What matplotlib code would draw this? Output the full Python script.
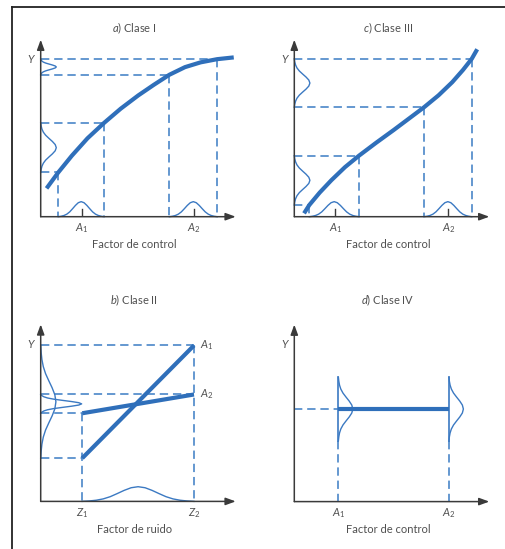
import numpy as np
import matplotlib
matplotlib.use('Agg')
import matplotlib.pyplot as plt
from matplotlib.lines import Line2D

plt.rcParams['font.family'] = ['Lato', 'DejaVu Sans']
plt.rcParams['mathtext.fontset'] = 'custom'
plt.rcParams['mathtext.rm'] = 'Lato'
plt.rcParams['mathtext.it'] = 'Lato:italic'
plt.rcParams['lines.scale_dashes'] = False

# a) Clase I : respuesta concava
a_curve_x = [0.3, 0.9, 1.6, 2.4, 3.25, 4.1, 5.0, 5.8, 6.6, 7.4, 8.2, 9.05, 9.9]
a_curve_y = [1.6, 2.5, 3.45, 4.43, 5.3, 6.1, 6.85, 7.45, 8.02, 8.45, 8.72, 8.9, 9.0]
a_ctrl = [2.1, 7.85]            # A1, A2
a_x_lo = [0.9, 6.6]
a_x_hi = [3.25, 9.05]
a_y_lo = [2.5, 8.02]
a_y_hi = [5.3, 8.9]

# c) Clase III : respuesta en S
c_curve_x = [0.5, 0.77, 1.3, 1.9, 2.6, 3.32, 4.2, 5.1, 5.9, 6.65, 7.4, 8.1, 8.65, 9.1, 9.38]
c_curve_y = [0.19, 0.66, 1.36, 2.06, 2.8, 3.45, 4.18, 4.9, 5.56, 6.18, 6.86, 7.6, 8.29, 8.92, 9.46]
c_ctrl = [2.1, 7.9]
c_x_lo = [0.77, 6.65]
c_x_hi = [3.32, 9.1]
c_y_lo = [0.66, 6.18]
c_y_hi = [3.45, 8.92]

# b) Clase II : interaccion control x ruido
b_noise = [2.13, 7.86]          # Z1, Z2
b_a1 = [2.44, 8.81]
b_a2 = [4.98, 6.04]

# d) Clase IV : sin efecto
d_ctrl = [2.26, 7.93]
d_y = [5.23, 5.23]

# forma de campana
bell_profile = [0.0, 0.03, 0.08, 0.17, 0.32, 0.53, 0.75, 0.93, 1.0,
                0.93, 0.75, 0.53, 0.32, 0.17, 0.08, 0.03, 0.0]

C_THICK = '#2f6fba'
C_DASH = '#4a86c8'
C_BELL = '#3b79c2'
C_AXIS = '#3a3a3a'
C_TEXT = '#505050'

fig = plt.figure(figsize=(5.06, 5.49), dpi=100)

W, H = 506.0, 549.0
def panel(ox, oy):
    ax = fig.add_axes([ox / W, (H - oy) / H, 195 / W, 177 / H])
    ax.set_xlim(0, 10)
    ax.set_ylim(0, 10)
    ax.axis('off')
    return ax

def arrows(ax):
    ap = dict(arrowstyle='-|>,head_length=0.6,head_width=0.22', lw=1.1,
              color=C_AXIS, shrinkA=0, shrinkB=0)
    ax.annotate('', xy=(10, 0), xytext=(0, 0), arrowprops=ap, annotation_clip=False)
    ax.annotate('', xy=(0, 10), xytext=(0, 0), arrowprops=ap, annotation_clip=False)
    ax.text(-0.46, 8.9, '$Y$', color=C_TEXT, fontsize=8, ha='center', va='center')

def dash(ax, xs, ys):
    ax.plot(xs, ys, color=C_DASH, lw=1.2, dashes=(6, 3.5), clip_on=False, zorder=2)

def bell_x(ax, lo, hi, h, base=0.0):
    t = np.linspace(lo, hi, len(bell_profile))
    ax.plot(t, base + np.array(bell_profile) * h, color=C_BELL, lw=1.0, clip_on=False, zorder=3)

def bell_y(ax, lo, hi, w, base=0.0):
    t = np.linspace(lo, hi, len(bell_profile))
    ax.plot(base + np.array(bell_profile) * w, t, color=C_BELL, lw=1.0, clip_on=False, zorder=3)

def labels(ax, title, names, xs, xlabel, title_y):
    ax.text(4.8, title_y, title, color=C_TEXT, fontsize=8, ha='center', va='center')
    for n, x in zip(names, xs):
        ax.text(x, -0.65, n, color=C_TEXT, fontsize=8, ha='center', va='center')
    ax.text(4.8, -1.58, xlabel, color=C_TEXT, fontsize=8, ha='center', va='center')

def monotone_panel(ax, cx, cy, ctrl, xlo, xhi, ylo, yhi):
    for i in range(2):
        dash(ax, [xlo[i], xlo[i]], [ylo[i], 0])
        dash(ax, [xhi[i], xhi[i]], [yhi[i], 0])
        dash(ax, [0, xlo[i]], [ylo[i], ylo[i]])
        dash(ax, [0, xhi[i]], [yhi[i], yhi[i]])
        bell_x(ax, xlo[i], xhi[i], 0.85)
        bell_y(ax, ylo[i], yhi[i], 0.8)
        ax.plot([ctrl[i], ctrl[i]], [0, 0.42], color=C_AXIS, lw=1.0)
    ax.plot(cx, cy, color=C_THICK, lw=3.0, solid_capstyle='butt',
            solid_joinstyle='round', clip_on=False, zorder=4)
    arrows(ax)

# a)
ax = panel(40.7, 216.7)
monotone_panel(ax, a_curve_x, a_curve_y, a_ctrl, a_x_lo, a_x_hi, a_y_lo, a_y_hi)
labels(ax, '$a$) Clase I', ['$A_1$', '$A_2$'], a_ctrl, 'Factor de control', 10.66)

# c)
ax = panel(294.3, 216.7)
monotone_panel(ax, c_curve_x, c_curve_y, c_ctrl, c_x_lo, c_x_hi, c_y_lo, c_y_hi)
labels(ax, '$c$) Clase III', ['$A_1$', '$A_2$'], c_ctrl, 'Factor de control', 10.66)

# b)
ax = panel(40.7, 501.4)
dash(ax, [0, b_noise[1]], [b_a1[1], b_a1[1]])
dash(ax, [0, b_noise[1]], [b_a2[1], b_a2[1]])
dash(ax, [0, b_noise[0]], [b_a2[0], b_a2[0]])
dash(ax, [0, b_noise[0]], [b_a1[0], b_a1[0]])
dash(ax, [b_noise[0], b_noise[0]], [b_a2[0], 0])
dash(ax, [b_noise[1], b_noise[1]], [b_a1[1], 0])
bell_y(ax, b_a1[0], b_a1[1], 0.78)
bell_y(ax, b_a2[0], b_a2[1], 2.1)
bell_x(ax, b_noise[0], b_noise[1], 0.83)
ax.plot(b_noise, b_a1, color=C_THICK, lw=3.0, solid_capstyle='butt', zorder=4)
ax.plot(b_noise, b_a2, color=C_THICK, lw=3.0, solid_capstyle='butt', zorder=4)
ax.text(8.5, b_a1[1], '$A_1$', color=C_TEXT, fontsize=8, ha='center', va='center')
ax.text(8.5, b_a2[1], '$A_2$', color=C_TEXT, fontsize=8, ha='center', va='center')
arrows(ax)
labels(ax, '$b$) Clase II', ['$Z_1$', '$Z_2$'], b_noise, 'Factor de ruido', 11.38)

# d)
ax = panel(294.3, 501.6)
dash(ax, [0, d_ctrl[0]], [d_y[0], d_y[0]])
for x in d_ctrl:
    dash(ax, [x, x], [d_y[0] - 1.8, 0])
    ax.plot([x, x], [d_y[0] - 1.8, d_y[0] + 1.8], color=C_BELL, lw=1.2, zorder=3)
    bell_y(ax, d_y[0] - 1.8, d_y[0] + 1.8, 0.74, base=x)
ax.plot(d_ctrl, d_y, color=C_THICK, lw=3.0, solid_capstyle='butt', zorder=4)
arrows(ax)
labels(ax, '$d$) Clase IV', ['$A_1$', '$A_2$'], d_ctrl, 'Factor de control', 11.38)

# marco
fig.add_artist(Line2D([11.7 / W, 11.7 / W], [0, 1 - 6.7 / H], transform=fig.transFigure,
                      color='#222222', lw=1.3))
fig.add_artist(Line2D([11.7 / W, 1], [1 - 6.7 / H, 1 - 6.7 / H], transform=fig.transFigure,
                      color='#222222', lw=1.3))

fig.savefig('out.png', dpi=100, facecolor='white')
